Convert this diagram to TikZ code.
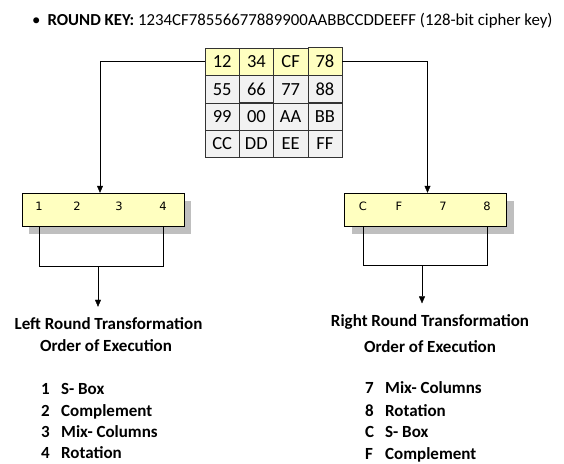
\documentclass[tikz,border=0pt]{standalone}
\usepackage{fontspec}
\setmainfont{Carlito}
\newfontfamily\boxfont{DejaVu Sans}
\usetikzlibrary{arrows.meta, positioning, calc, matrix, shadows}
\definecolor{keyyellow}{HTML}{FFFFC0}
\definecolor{keygray}{HTML}{F2F2F2}
\definecolor{boxshade}{HTML}{BFBFBF}

\begin{document}
\begin{tikzpicture}[
    x=1pt, y=-1pt,
    cell/.style={rectangle, draw=black!80, fill=keygray, minimum width=34.25pt, minimum height=27.25pt, inner sep=0pt, font=\fontsize{18.5}{20}\selectfont},
    roundbox/.style={rectangle, draw=black, fill=keyyellow, minimum width=162pt, minimum height=33pt, drop shadow={shadow xshift=7pt, shadow yshift=-8pt, fill=boxshade, opacity=1}},
    boxlabel/.style={inner sep=0pt, font=\boxfont\fontsize{11.5}{13}\selectfont},
    heading/.style={inner sep=0pt, font=\bfseries\fontsize{17}{20}\selectfont},
    stepline/.style={anchor=base west, inner sep=0pt, font=\bfseries\fontsize{17}{20}\selectfont},
    arrow/.style={-{Triangle[length=7pt, width=6pt]}, thin, draw=black}
]
\useasboundingbox (0,0) rectangle (564,463);
\node[anchor=base west, inner sep=0pt, font=\fontsize{16.8}{20}\selectfont] (roundkey) at (32,25)
    {\textbullet\hspace{7pt}\textbf{ROUND KEY:} 1234CF78556677889900AABBCCDDEEFF (128-bit cipher key)};
% key grid
\matrix (key) [matrix of nodes, nodes=cell, column sep=-0.4pt, row sep=-0.4pt,
    row 1/.style={nodes={fill=keyyellow}}] at (273.5,102.5) {
    12 & 34 & CF & 78 \\
    55 & 66 & 77 & 88 \\
    99 & 00 & AA & BB \\
    CC & DD & EE & FF \\
};
% round boxes
\node[roundbox] (lbox) at (103,209.5) {};
\node[roundbox] (rbox) at (425.5,209.5) {};
\node[boxlabel] (l1) at (39,206) {1};
\node[boxlabel] (l2) at (77,206) {2};
\node[boxlabel] (l3) at (119,206) {3};
\node[boxlabel] (l4) at (163,206) {4};
\node[boxlabel] (rC) at (363,206) {C};
\node[boxlabel] (rF) at (399,206) {F};
\node[boxlabel] (r7) at (443,206) {7};
\node[boxlabel] (r8) at (487,206) {8};
\coordinate (ljoin) at (98,266);
\coordinate (rjoin) at (422,265);
% headings and steps
\node[heading] (ltitle) at (108.5,324) {Left Round Transformation};
\node[heading] (lorder) at (106,346) {Order of Execution};
\node[heading] (rtitle) at (430,322) {Right Round Transformation};
\node[heading] (rorder) at (430,347) {Order of Execution};
\node[stepline] (lstep1) at (41,394) {\makebox[20pt][l]{1}S- Box};
\node[stepline] (lstep2) at (41,416) {\makebox[20pt][l]{2}Complement};
\node[stepline] (lstep3) at (41,437) {\makebox[20pt][l]{3}Mix- Columns};
\node[stepline] (lstep4) at (41,458) {\makebox[20pt][l]{4}Rotation};
\node[stepline] (rstep1) at (365,393) {\makebox[20pt][l]{7}Mix- Columns};
\node[stepline] (rstep2) at (365,416) {\makebox[20pt][l]{8}Rotation};
\node[stepline] (rstep3) at (365,437) {\makebox[20pt][l]{C}S- Box};
\node[stepline] (rstep4) at (365,459) {\makebox[20pt][l]{F}Complement};
% connectors
\draw[arrow] (key-1-1.west) -| ([xshift=-3pt]lbox.north);
\draw[arrow] (key-1-4.east) -| ([xshift=2pt]rbox.north);
\draw (l1 |- lbox.south) -- (l1 |- ljoin) -- (l4 |- ljoin) -- (l4 |- lbox.south);
\draw (rC |- rbox.south) -- (rC |- rjoin) -- (r8 |- rjoin) -- (r8 |- rbox.south);
\draw[arrow, shorten >=11pt] (ljoin) -- (ljoin |- ltitle.north);
\draw[arrow, shorten >=11pt] (rjoin) -- (rjoin |- rtitle.north);
\end{tikzpicture}
\end{document}
